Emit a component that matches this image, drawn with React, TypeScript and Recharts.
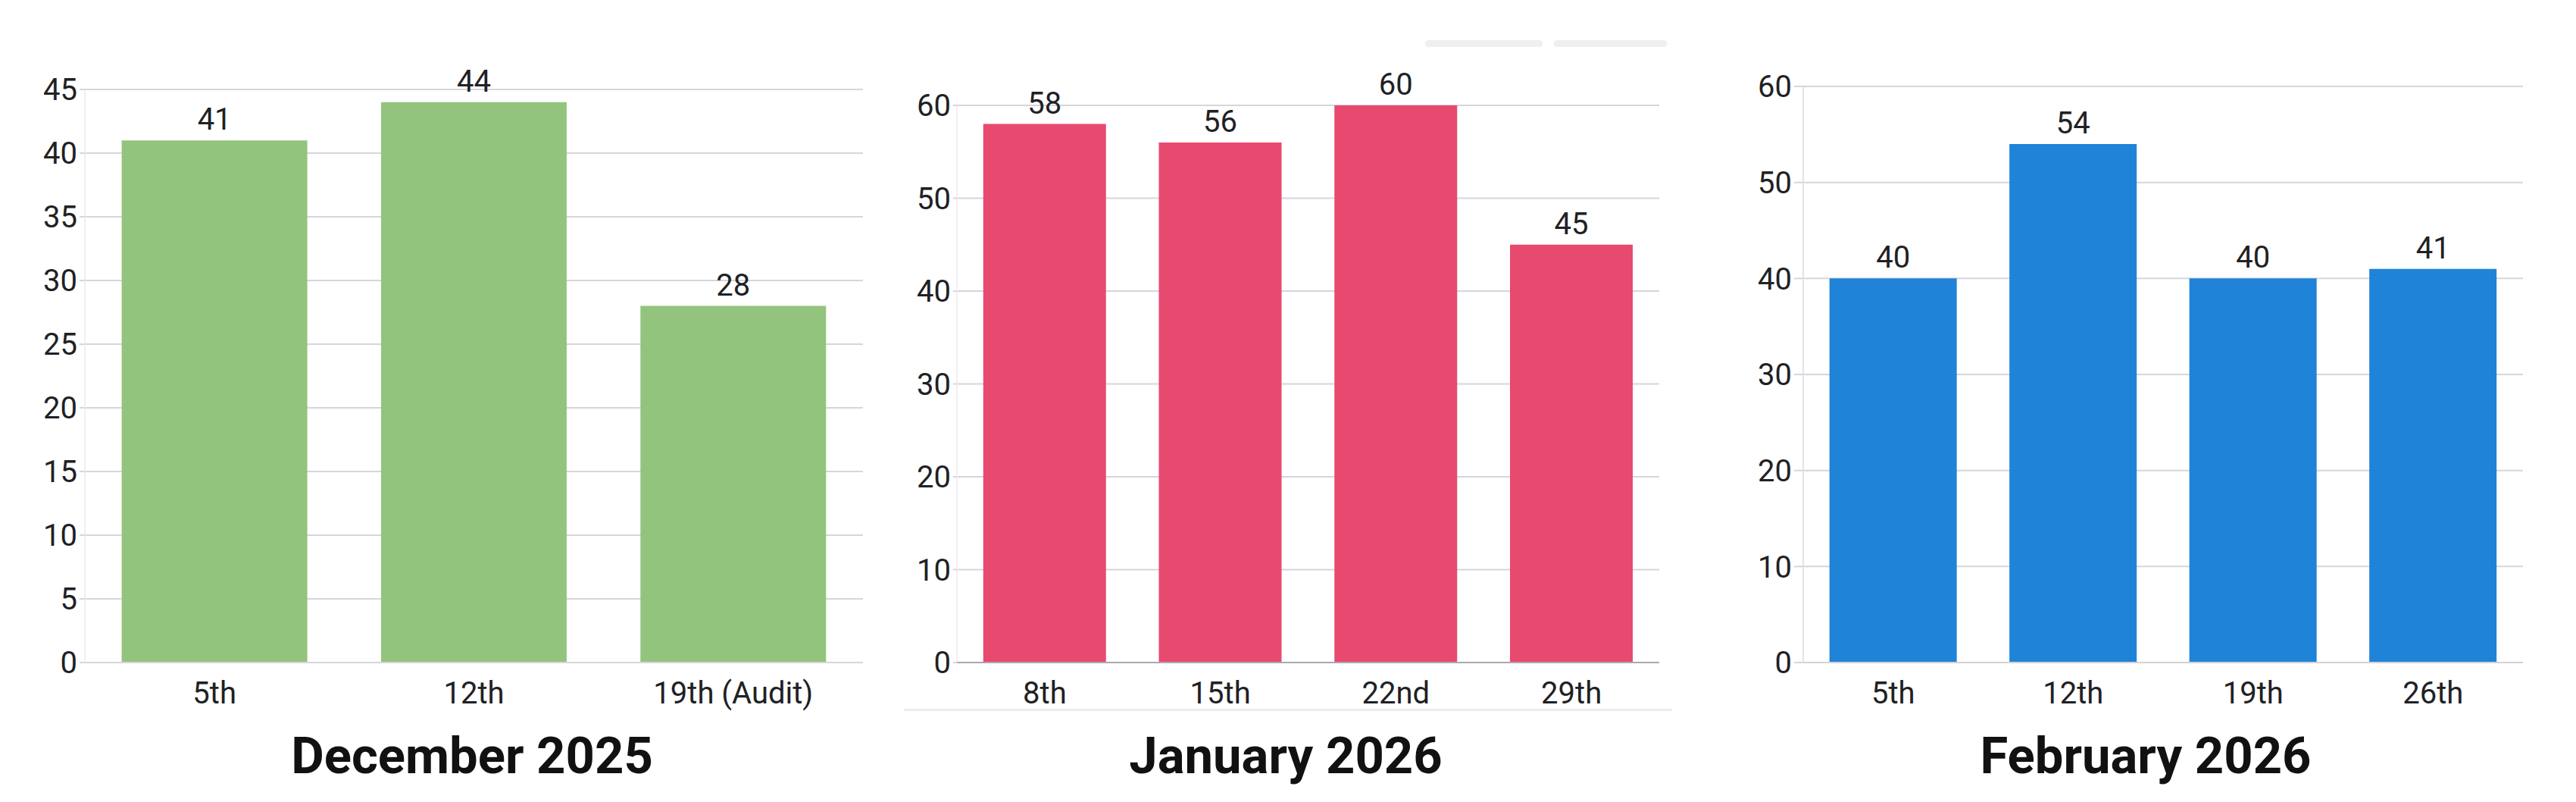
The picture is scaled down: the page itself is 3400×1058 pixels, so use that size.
import { BarChart, Bar, XAxis, YAxis, CartesianGrid, LabelList } from "recharts";

const decWeeks = ["5th", "12th", "19th (Audit)"];
const decValues = [41, 44, 28];
const decTicks = [0, 5, 10, 15, 20, 25, 30, 35, 40, 45];

const janWeeks = ["8th", "15th", "22nd", "29th"];
const janValues = [58, 56, 60, 45];
const janTicks = [0, 10, 20, 30, 40, 50, 60];

const febWeeks = ["5th", "12th", "19th", "26th"];
const febValues = [40, 54, 40, 41];
const febTicks = [0, 10, 20, 30, 40, 50, 60];

const FONT = "Roboto, 'Noto Sans', sans-serif";
const TEXT = "#202124";

type PanelProps = {
  weeks: string[];
  values: number[];
  ticks: number[];
  color: string;
  title: string;
  left: number;
  width: number;
  top: number;
  yWidth: number;
  tickSize: number;
  gap: string;
  zeroLine: string;
  axisLine: string;
  titleX: number;
};

function Panel(p: PanelProps) {
  const data = p.weeks.map((w, i) => ({ week: w, value: p.values[i] }));
  const max = p.ticks[p.ticks.length - 1];
  return (
    <>
      <div style={{ position: "absolute", left: p.left, top: 0 }}>
        <BarChart
          width={p.width}
          height={940}
          data={data}
          margin={{ top: p.top, right: 10, bottom: 6, left: 0 }}
          barCategoryGap={p.gap}
        >
          <CartesianGrid vertical={false} stroke="#d6d5dc" strokeWidth={2} />
          <XAxis
            dataKey="week"
            interval={0}
            height={60}
            tickSize={0}
            tickMargin={26}
            axisLine={{ stroke: p.zeroLine, strokeWidth: 2 }}
            tick={{ fill: TEXT, fontSize: 40, fontFamily: FONT }}
          />
          <YAxis
            domain={[0, max]}
            ticks={p.ticks}
            width={p.yWidth}
            tickSize={p.tickSize}
            tickMargin={3}
            axisLine={{ stroke: p.axisLine, strokeWidth: 2 }}
            tickLine={{ stroke: "#d6d5dc", strokeWidth: 2 }}
            tick={{ fill: TEXT, fontSize: 40, fontFamily: FONT }}
          />
          <Bar dataKey="value" fill={p.color} isAnimationActive={false}>
            <LabelList
              dataKey="value"
              position="top"
              offset={14}
              fill={TEXT}
              fontSize={40}
              fontFamily={FONT}
            />
          </Bar>
        </BarChart>
      </div>
      <div
        style={{
          position: "absolute",
          left: p.titleX - 400,
          width: 800,
          top: 964,
          textAlign: "center",
          fontFamily: FONT,
          fontWeight: 700,
          fontSize: 67,
          lineHeight: "67px",
          color: "#111",
        }}
      >
        {p.title}
      </div>
    </>
  );
}

export default function App() {
  return (
    <div
      style={{
        position: "absolute",
        left: 0,
        top: 0,
        width: 3400,
        height: 1058,
        background: "#fff",
        overflow: "hidden",
      }}
    >
      {/* faint leftovers in the middle panel */}
      <div style={{ position: "absolute", left: 1881, top: 53, width: 155, height: 9, background: "#efeff2", borderRadius: 4 }} />
      <div style={{ position: "absolute", left: 2051, top: 53, width: 149, height: 9, background: "#efeff2", borderRadius: 4 }} />
      <div style={{ position: "absolute", left: 1193, top: 935, width: 1014, height: 3, background: "#ededf0" }} />

      <Panel
        weeks={decWeeks}
        values={decValues}
        ticks={decTicks}
        color="#93C47D"
        title="December 2025"
        left={0}
        width={1149}
        top={118}
        yWidth={112}
        tickSize={7}
        gap="14.2%"
        zeroLine="#d6d5dc"
        axisLine="#f0eff4"
        titleX={623}
      />
      <Panel
        weeks={janWeeks}
        values={janValues}
        ticks={janTicks}
        color="#E8496F"
        title="January 2026"
        left={1150}
        width={1050}
        top={139}
        yWidth={113}
        tickSize={5}
        gap="15%"
        zeroLine="#a9a9ad"
        axisLine="#f0eff4"
        titleX={1697}
      />
      <Panel
        weeks={febWeeks}
        values={febValues}
        ticks={febTicks}
        color="#1F83D8"
        title="February 2026"
        left={2290}
        width={1050}
        top={114}
        yWidth={90}
        tickSize={12}
        gap="14.6%"
        zeroLine="#d6d0d4"
        axisLine="#e4e2ea"
        titleX={2832}
      />
    </div>
  );
}
